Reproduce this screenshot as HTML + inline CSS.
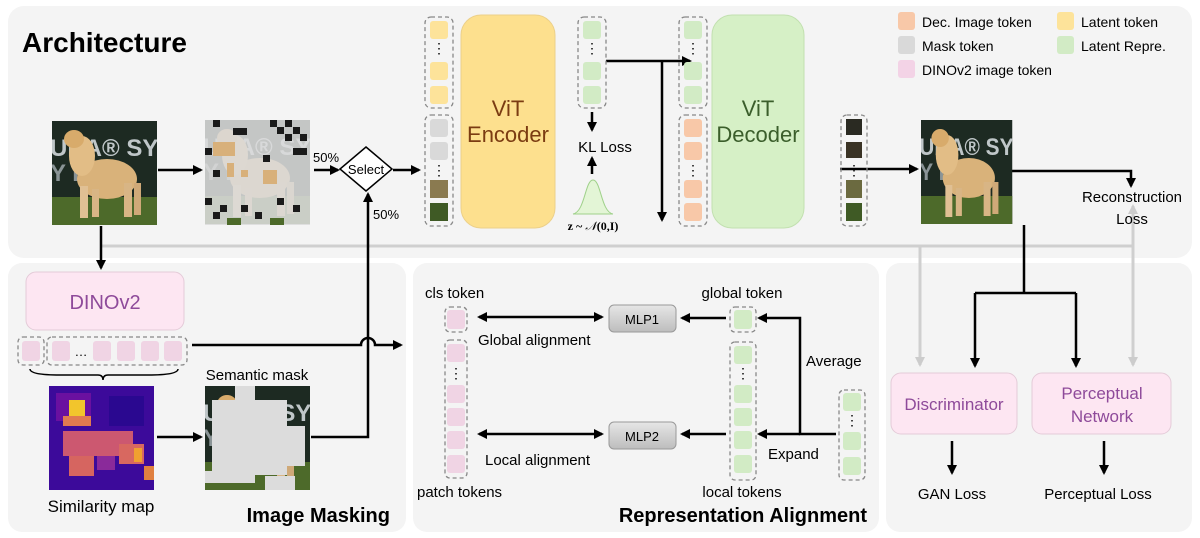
<!DOCTYPE html>
<html><head><meta charset="utf-8"><style>
html,body{margin:0;padding:0;background:#fff}
svg{display:block;font-family:"Liberation Sans",sans-serif}
</style></head><body>
<svg width="1200" height="538" viewBox="0 0 1200 538" xmlns="http://www.w3.org/2000/svg">
<defs>
<marker id="ah" markerWidth="10" markerHeight="10" refX="8" refY="5" orient="auto" markerUnits="userSpaceOnUse"><path d="M0,0 L10,5 L0,10 z" fill="#000"/></marker>
<marker id="ahs" markerWidth="10" markerHeight="10" refX="2" refY="5" orient="auto" markerUnits="userSpaceOnUse"><path d="M10,0 L0,5 L10,10 z" fill="#000"/></marker>
<marker id="ag" markerWidth="10" markerHeight="10" refX="8" refY="5" orient="auto" markerUnits="userSpaceOnUse"><path d="M0,0 L10,5 L0,10 z" fill="#ccc"/></marker>
<linearGradient id="mlp" x1="0" y1="0" x2="0" y2="1"><stop offset="0" stop-color="#e6e6e6"/><stop offset="1" stop-color="#bdbdbd"/></linearGradient>
<clipPath id="dc"><rect width="105" height="104"/></clipPath>
<g id="dog" clip-path="url(#dc)">
<rect width="105" height="104" fill="#1d2a22"/>
<rect y="76" width="105" height="28" fill="#4d6a2a"/>
<text x="-2" y="35" font-size="24" font-weight="bold" fill="#bfc6c8">UNA® SY</text>
<text x="-2" y="60" font-size="24" font-weight="bold" fill="#8a9496">Y  DOG</text>
<ellipse cx="55" cy="58" rx="30" ry="20" fill="#d9b27a"/>
<ellipse cx="30" cy="35" rx="13" ry="20" fill="#e2bd86"/>
<ellipse cx="22" cy="18" rx="10" ry="9" fill="#d8ab6b"/>
<rect x="28" y="65" width="8" height="32" fill="#e0c094"/><rect x="40" y="68" width="7" height="28" fill="#d8b585"/>
<rect x="72" y="62" width="8" height="34" fill="#d8b585"/><rect x="82" y="62" width="7" height="32" fill="#cfa978"/>
</g>
</defs>

<rect x="8" y="6" width="1184" height="252" rx="16" fill="#f4f4f4"/>
<rect x="8" y="263" width="398" height="269" rx="14" fill="#f4f4f4"/>
<rect x="413" y="263" width="466" height="269" rx="14" fill="#f4f4f4"/>
<rect x="886" y="263" width="306" height="269" rx="14" fill="#f4f4f4"/>

<text x="22" y="52" font-size="28" font-weight="bold">Architecture</text>

<g stroke="#cfcfcf" stroke-width="3" fill="none">
<path d="M100,246 H1133"/>
<path d="M920,246 V365" marker-end="url(#ag)"/>
<path d="M1133,246 V365" marker-end="url(#ag)"/>
<path d="M1133,246 V206" marker-end="url(#ag)"/>
</g>

<use href="#dog" x="52" y="121"/>
<g transform="translate(205,120)">
<use href="#dog" x="0" y="0"/>
<rect width="105" height="105" fill="#dcdcdc" opacity="0.88"/>
<g fill="#1a1a1a"><rect x="8" y="0" width="7" height="7"/><rect x="28" y="8" width="14" height="7"/><rect x="65" y="0" width="7" height="7"/><rect x="80" y="0" width="7" height="7"/><rect x="72" y="7" width="7" height="7"/><rect x="88" y="7" width="7" height="7"/><rect x="80" y="14" width="7" height="7"/><rect x="95" y="14" width="7" height="7"/><rect x="0" y="28" width="7" height="7"/><rect x="58" y="35" width="7" height="7"/><rect x="88" y="28" width="14" height="7"/><rect x="8" y="50" width="7" height="7"/><rect x="0" y="78" width="7" height="7"/><rect x="15" y="85" width="7" height="7"/><rect x="36" y="85" width="7" height="7"/><rect x="50" y="92" width="7" height="7"/><rect x="88" y="85" width="7" height="7"/><rect x="72" y="78" width="7" height="7"/><rect x="8" y="92" width="7" height="7"/></g>
<g fill="#d8b07a"><rect x="8" y="22" width="22" height="14"/><rect x="36" y="50" width="7" height="7"/><rect x="58" y="50" width="14" height="14"/><rect x="22" y="43" width="7" height="14"/></g>
<g fill="#4d6a2a"><rect x="22" y="98" width="14" height="7"/><rect x="65" y="98" width="14" height="7"/></g>
</g>
<path d="M366,147 L392,169 L366,191 L340,169 z" fill="#fff" stroke="#000" stroke-width="1.5"/>
<text x="366" y="174" font-size="13" text-anchor="middle">Select</text>
<text x="313" y="162" font-size="13">50%</text>
<text x="373" y="219" font-size="13">50%</text>

<g stroke="#000" stroke-width="2.5" fill="none">
<path d="M158,170 H201" marker-end="url(#ah)"/>
<path d="M314,170 H338" marker-end="url(#ah)"/>
<path d="M393,170 H419" marker-end="url(#ah)"/>
<path d="M101,226 V268" marker-end="url(#ah)"/>
<path d="M311,437 H368 V194" marker-end="url(#ah)"/>
<path d="M192,345 H361 A7,7 0 0 1 375,345 H401" marker-end="url(#ah)"/>
<path d="M157,437 H201" marker-end="url(#ah)"/>
<path d="M606,61 H690" marker-end="url(#ah)"/>
<path d="M662,61 V220" marker-end="url(#ah)"/>
<path d="M592,112 V130" marker-end="url(#ah)"/>
<path d="M592,174 V158" marker-end="url(#ah)"/>
<path d="M840,169 H917" marker-end="url(#ah)"/>
<path d="M1012,171 H1131 V186" marker-end="url(#ah)"/>
<path d="M1024,225 V293 M975,293 H1076"/>
<path d="M975,293 V366" marker-end="url(#ah)"/>
<path d="M1076,293 V366" marker-end="url(#ah)"/>
<path d="M952,441 V473" marker-end="url(#ah)"/>
<path d="M1104,441 V473" marker-end="url(#ah)"/>
<path d="M479,317 H602" marker-start="url(#ahs)" marker-end="url(#ah)"/>
<path d="M479,434 H602" marker-start="url(#ahs)" marker-end="url(#ah)"/>
<path d="M726,318 H682" marker-end="url(#ah)"/>
<path d="M726,434 H682" marker-end="url(#ah)"/>
<path d="M836,434 H800 V318 H759" marker-end="url(#ah)"/>
<path d="M800,434 H759" marker-end="url(#ah)"/>
</g>

<g stroke="#888" stroke-width="1.3" stroke-dasharray="4,3" fill="none">
<rect x="425" y="17" width="28" height="91" rx="6"/>
<rect x="425" y="115" width="28" height="111" rx="6"/>
<rect x="578" y="17" width="28" height="91" rx="6"/>
<rect x="679" y="17" width="28" height="91" rx="6"/>
<rect x="679" y="115" width="28" height="111" rx="6"/>
<rect x="841" y="115" width="26" height="111" rx="6"/>
<rect x="18" y="337" width="26" height="28" rx="5"/>
<rect x="47" y="337" width="140" height="28" rx="5"/>
<rect x="445" y="307" width="22" height="25" rx="5"/>
<rect x="445" y="340" width="22" height="138" rx="5"/>
<rect x="730" y="307" width="26" height="25" rx="5"/>
<rect x="730" y="342" width="26" height="138" rx="5"/>
<rect x="839" y="390" width="26" height="90" rx="5"/>
</g>
<g fill="#fde39a"><rect x="430" y="21" width="18" height="18" rx="3"/><rect x="430" y="62" width="18" height="18" rx="3"/><rect x="430" y="86" width="18" height="18" rx="3"/></g>
<text x="439" y="53" font-size="14" text-anchor="middle">⋮</text>
<g fill="#d9d9d9"><rect x="430" y="119" width="18" height="18" rx="3"/><rect x="430" y="142" width="18" height="18" rx="3"/></g>
<text x="439" y="175" font-size="14" text-anchor="middle">⋮</text>
<rect x="430" y="180" width="18" height="18" fill="#8a7a50"/><rect x="430" y="203" width="18" height="18" fill="#3f5a25"/>

<rect x="461" y="15" width="94" height="213" rx="20" fill="#fde08e" stroke="#ecd08a"/>
<text x="508" y="116" font-size="22" fill="#7b3c12" text-anchor="middle">ViT</text>
<text x="508" y="142" font-size="22" fill="#7b3c12" text-anchor="middle">Encoder</text>

<g fill="#d2ebc5"><rect x="583" y="21" width="18" height="18" rx="3"/><rect x="583" y="62" width="18" height="18" rx="3"/><rect x="583" y="86" width="18" height="18" rx="3"/>
<rect x="684" y="21" width="18" height="18" rx="3"/><rect x="684" y="62" width="18" height="18" rx="3"/><rect x="684" y="86" width="18" height="18" rx="3"/></g>
<text x="592" y="53" font-size="14" text-anchor="middle">⋮</text>
<text x="693" y="53" font-size="14" text-anchor="middle">⋮</text>
<text x="605" y="152" font-size="15" text-anchor="middle">KL Loss</text>
<path d="M573,214 C585,212 585,180 593,180 C601,180 601,212 613,214 z" fill="#e3f5d6" stroke="#9fd18a"/>
<text x="593" y="230" font-size="12" font-family="Liberation Serif" text-anchor="middle" font-weight="bold">z ~ <tspan font-style="italic" font-weight="normal">𝒩</tspan>(0,I)</text>

<g fill="#f8c8a8"><rect x="684" y="119" width="18" height="18" rx="3"/><rect x="684" y="142" width="18" height="18" rx="3"/><rect x="684" y="180" width="18" height="18" rx="3"/><rect x="684" y="203" width="18" height="18" rx="3"/></g>
<text x="693" y="175" font-size="14" text-anchor="middle">⋮</text>
<rect x="712" y="15" width="92" height="213" rx="20" fill="#d6f0c6" stroke="#c2e0b0"/>
<text x="758" y="116" font-size="22" fill="#3b5e2b" text-anchor="middle">ViT</text>
<text x="758" y="142" font-size="22" fill="#3b5e2b" text-anchor="middle">Decoder</text>
<rect x="846" y="119" width="16" height="16" fill="#2a2a22"/><rect x="846" y="142" width="16" height="16" fill="#3a3325"/>
<text x="854" y="175" font-size="14" text-anchor="middle">⋮</text>
<rect x="846" y="180" width="16" height="18" fill="#6b6a40"/><rect x="846" y="203" width="16" height="18" fill="#3f5a25"/>

<g transform="translate(921,120) scale(0.87,1)"><use href="#dog" x="0" y="0"/></g>
<text x="1132" y="202" font-size="15" text-anchor="middle">Reconstruction</text>
<text x="1132" y="224" font-size="15" text-anchor="middle">Loss</text>

<rect x="898" y="12" width="17" height="18" rx="3" fill="#f8c8a8"/><text x="922" y="27" font-size="14">Dec. Image token</text>
<rect x="898" y="36" width="17" height="18" rx="3" fill="#d9d9d9"/><text x="922" y="51" font-size="14">Mask token</text>
<rect x="898" y="60" width="17" height="18" rx="3" fill="#f3d3e6"/><text x="922" y="75" font-size="14">DINOv2 image token</text>
<rect x="1057" y="12" width="17" height="18" rx="3" fill="#fde39a"/><text x="1081" y="27" font-size="14">Latent token</text>
<rect x="1057" y="36" width="17" height="18" rx="3" fill="#d2ebc5"/><text x="1081" y="51" font-size="14">Latent Repre.</text>

<rect x="26" y="272" width="158" height="58" rx="10" fill="#fde6f2" stroke="#e4cbd8"/>
<text x="105" y="309" font-size="20" fill="#8e4a9a" text-anchor="middle">DINOv2</text>
<g fill="#f0d4e4"><rect x="22" y="341" width="18" height="20" rx="3"/><rect x="52" y="341" width="18" height="20" rx="3"/><rect x="93" y="341" width="18" height="20" rx="3"/><rect x="117" y="341" width="18" height="20" rx="3"/><rect x="141" y="341" width="18" height="20" rx="3"/><rect x="164" y="341" width="18" height="20" rx="3"/></g>
<text x="81" y="356" font-size="13" text-anchor="middle">…</text>
<path d="M30,369 Q30,375 60,375 H98 Q103,375 103,380 Q103,375 108,375 H148 Q178,375 178,369" fill="none" stroke="#000" stroke-width="1.5"/>
<g transform="translate(49,386)">
<rect width="105" height="104" fill="#3c0a9a"/>
<rect x="7" y="7" width="35" height="28" fill="#6a10a0"/>
<rect x="20" y="14" width="16" height="20" fill="#f2c52c"/>
<rect x="14" y="30" width="28" height="10" fill="#e07a50"/>
<rect x="14" y="45" width="70" height="25" fill="#cc5870"/>
<rect x="20" y="70" width="25" height="20" fill="#d66560"/>
<rect x="70" y="58" width="25" height="20" fill="#d86860"/>
<rect x="85" y="62" width="8" height="14" fill="#f0a030"/>
<rect x="48" y="70" width="18" height="14" fill="#8a2a9a"/>
<rect x="60" y="10" width="35" height="30" fill="#2a0890"/>
<rect x="95" y="80" width="10" height="14" fill="#e08040"/>
</g>
<text x="101" y="512" font-size="17" text-anchor="middle">Similarity map</text>
<text x="257" y="380" font-size="15" text-anchor="middle">Semantic mask</text>
<g transform="translate(205,386)">
<use href="#dog" x="0" y="0"/>
<rect x="7" y="14" width="75" height="75" fill="#dcdcdc"/>
<rect x="80" y="40" width="20" height="40" fill="#dcdcdc"/>
<rect x="30" y="0" width="20" height="14" fill="#dcdcdc"/>
<rect x="60" y="90" width="30" height="14" fill="#dcdcdc"/>
<rect x="0" y="85" width="50" height="12" fill="#dcdcdc"/>
</g>
<text x="390" y="522" font-size="20" font-weight="bold" text-anchor="end">Image Masking</text>

<text x="425" y="298" font-size="15">cls token</text>
<text x="417" y="497" font-size="15">patch tokens</text>
<text x="478" y="345" font-size="15">Global alignment</text>
<text x="485" y="465" font-size="15">Local alignment</text>
<g fill="#f0d4e4"><rect x="447" y="310" width="18" height="19" rx="3"/><rect x="447" y="344" width="18" height="18" rx="3"/><rect x="447" y="385" width="18" height="18" rx="3"/><rect x="447" y="408" width="18" height="18" rx="3"/><rect x="447" y="431" width="18" height="18" rx="3"/><rect x="447" y="455" width="18" height="18" rx="3"/></g>
<text x="456" y="378" font-size="14" text-anchor="middle">⋮</text>
<rect x="609" y="305" width="67" height="27" rx="5" fill="url(#mlp)" stroke="#999"/>
<text x="642" y="324" font-size="13" text-anchor="middle">MLP1</text>
<rect x="609" y="422" width="67" height="27" rx="5" fill="url(#mlp)" stroke="#999"/>
<text x="642" y="441" font-size="13" text-anchor="middle">MLP2</text>
<text x="742" y="298" font-size="15" text-anchor="middle">global token</text>
<text x="742" y="497" font-size="15" text-anchor="middle">local tokens</text>
<text x="806" y="366" font-size="15">Average</text>
<text x="768" y="459" font-size="15">Expand</text>
<g fill="#d2ebc5"><rect x="734" y="310" width="18" height="19" rx="3"/><rect x="734" y="346" width="18" height="18" rx="3"/><rect x="734" y="385" width="18" height="18" rx="3"/><rect x="734" y="408" width="18" height="18" rx="3"/><rect x="734" y="431" width="18" height="18" rx="3"/><rect x="734" y="455" width="18" height="18" rx="3"/>
<rect x="843" y="393" width="18" height="18" rx="3"/><rect x="843" y="432" width="18" height="18" rx="3"/><rect x="843" y="457" width="18" height="18" rx="3"/></g>
<text x="743" y="378" font-size="14" text-anchor="middle">⋮</text>
<text x="852" y="425" font-size="14" text-anchor="middle">⋮</text>
<text x="867" y="522" font-size="20" font-weight="bold" text-anchor="end">Representation Alignment</text>

<rect x="891" y="373" width="126" height="61" rx="10" fill="#fde6f2" stroke="#e4cbd8"/>
<text x="954" y="410" font-size="17" fill="#8e4a9a" text-anchor="middle">Discriminator</text>
<rect x="1032" y="373" width="139" height="61" rx="10" fill="#fde6f2" stroke="#e4cbd8"/>
<text x="1102" y="399" font-size="17" fill="#8e4a9a" text-anchor="middle">Perceptual</text>
<text x="1102" y="422" font-size="17" fill="#8e4a9a" text-anchor="middle">Network</text>
<text x="952" y="499" font-size="15" text-anchor="middle">GAN Loss</text>
<text x="1098" y="499" font-size="15" text-anchor="middle">Perceptual Loss</text>
</svg>
</body></html>
